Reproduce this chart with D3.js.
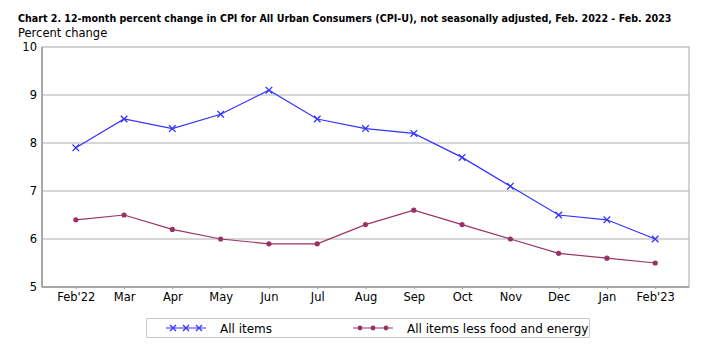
<!DOCTYPE html>
<html><head><meta charset="utf-8">
<script src="https://cdn.jsdelivr.net/npm/d3@7"></script>
<style>body{margin:0;background:#fff}svg{display:block;font-family:"DejaVu Sans",Verdana,sans-serif}</style>
</head><body><svg id="c" width="707" height="353"></svg>
<script>
const months = ["Feb'22","Mar","Apr","May","Jun","Jul","Aug","Sep","Oct","Nov","Dec","Jan","Feb'23"];
const allItems = [7.9,8.5,8.3,8.6,9.1,8.5,8.3,8.2,7.7,7.1,6.5,6.4,6.0];
const coreItems = [6.4,6.5,6.2,6.0,5.9,5.9,6.3,6.6,6.3,6.0,5.7,5.6,5.5];
const yTicks = [5,6,7,8,9,10];
const seriesNames = ["All items","All items less food and energy"];
const colors = ["#3333ff","#993366"];

const svg = d3.select("#c");
const L=42,R=689,T=47,B=287;
const x = d3.scalePoint().domain(months).range([L,R]).padding(0.7);
const y = d3.scaleLinear().domain([5,10]).range([B,T]);

const title = svg.append("text").attr("x",18).attr("y",22).attr("font-weight","bold")
  .attr("font-family","'DejaVu Sans Condensed','DejaVu Sans',sans-serif").attr("font-size",12)
  .text("Chart 2. 12-month percent change in CPI for All Urban Consumers (CPI-U), not seasonally adjusted, Feb. 2022 - Feb. 2023");
const w = title.node().getComputedTextLength();
title.attr("font-size", Math.min(12, 12*654/w));
svg.append("text").attr("x",18).attr("y",37).attr("font-size",11.5).text("Percent change");

// gridlines
svg.append("g").selectAll("line").data(yTicks.filter(d=>d>5&&d<10)).join("line")
  .attr("x1",L).attr("x2",R).attr("y1",d=>y(d)).attr("y2",d=>y(d)).attr("stroke","#c8c8c8").attr("stroke-width",1.5);
// frame
svg.append("rect").attr("x",L).attr("y",T).attr("width",R-L).attr("height",B-T).attr("fill","none").attr("stroke","#b4b4b4").attr("stroke-width",1.2);
svg.append("line").attr("x1",L).attr("x2",L).attr("y1",T).attr("y2",B).attr("stroke","#999").attr("stroke-width",1.5);
svg.append("line").attr("x1",L).attr("x2",R).attr("y1",B).attr("y2",B).attr("stroke","#999").attr("stroke-width",1.5);

// y axis
const ya = svg.append("g").attr("transform",`translate(${L},0)`).call(d3.axisLeft(y).tickValues(yTicks).tickSize(0).tickPadding(5).tickFormat(d3.format("d")));
ya.select(".domain").remove();
ya.selectAll("text").attr("font-size",11.5).attr("fill","#000").attr("font-family","DejaVu Sans");

// x axis
const xa = svg.append("g").attr("transform",`translate(0,${B})`).call(d3.axisBottom(x).tickSize(2).tickPadding(4));
xa.select(".domain").remove();
xa.selectAll("line").attr("stroke","#999");
xa.selectAll("text").attr("font-size",11.5).attr("fill","#000").attr("font-family","DejaVu Sans");

const line = d3.line().x((d,i)=>x(months[i])).y(d=>y(d));
function cross(g, cx, cy, c, s){
  g.append("path").attr("d",`M${cx-s},${cy-s}L${cx+s},${cy+s}M${cx-s},${cy+s}L${cx+s},${cy-s}`).attr("stroke",c).attr("stroke-width",1.3).attr("fill","none");
}
svg.append("path").datum(coreItems).attr("d",line).attr("fill","none").attr("stroke",colors[1]).attr("stroke-width",1.2);
svg.append("g").selectAll("circle").data(coreItems).join("circle").attr("cx",(d,i)=>x(months[i])).attr("cy",d=>y(d)).attr("r",2.6).attr("fill",colors[1]);
svg.append("path").datum(allItems).attr("d",line).attr("fill","none").attr("stroke",colors[0]).attr("stroke-width",1.2);
const cg = svg.append("g");
allItems.forEach((d,i)=>cross(cg,x(months[i]),y(d),colors[0],3.3));

// legend
svg.append("rect").attr("x",146.5).attr("y",318.5).attr("width",443).attr("height",19).attr("fill","#fff").attr("stroke","#c8c8c8").attr("stroke-width",1);
const ly=328;
svg.append("line").attr("x1",166).attr("x2",206).attr("y1",ly).attr("y2",ly).attr("stroke",colors[0]).attr("stroke-width",1.2);
[173,186,199].forEach(px=>cross(svg,px,ly,colors[0],3));
svg.append("text").attr("x",220).attr("y",ly+4.5).attr("font-size",12).text(seriesNames[0]);
svg.append("line").attr("x1",353).attr("x2",393).attr("y1",ly).attr("y2",ly).attr("stroke",colors[1]).attr("stroke-width",1.2);
[360,373,386].forEach(px=>svg.append("circle").attr("cx",px).attr("cy",ly).attr("r",2.4).attr("fill",colors[1]));
svg.append("text").attr("x",407).attr("y",ly+4.5).attr("font-size",12).text(seriesNames[1]);
</script></body></html>
